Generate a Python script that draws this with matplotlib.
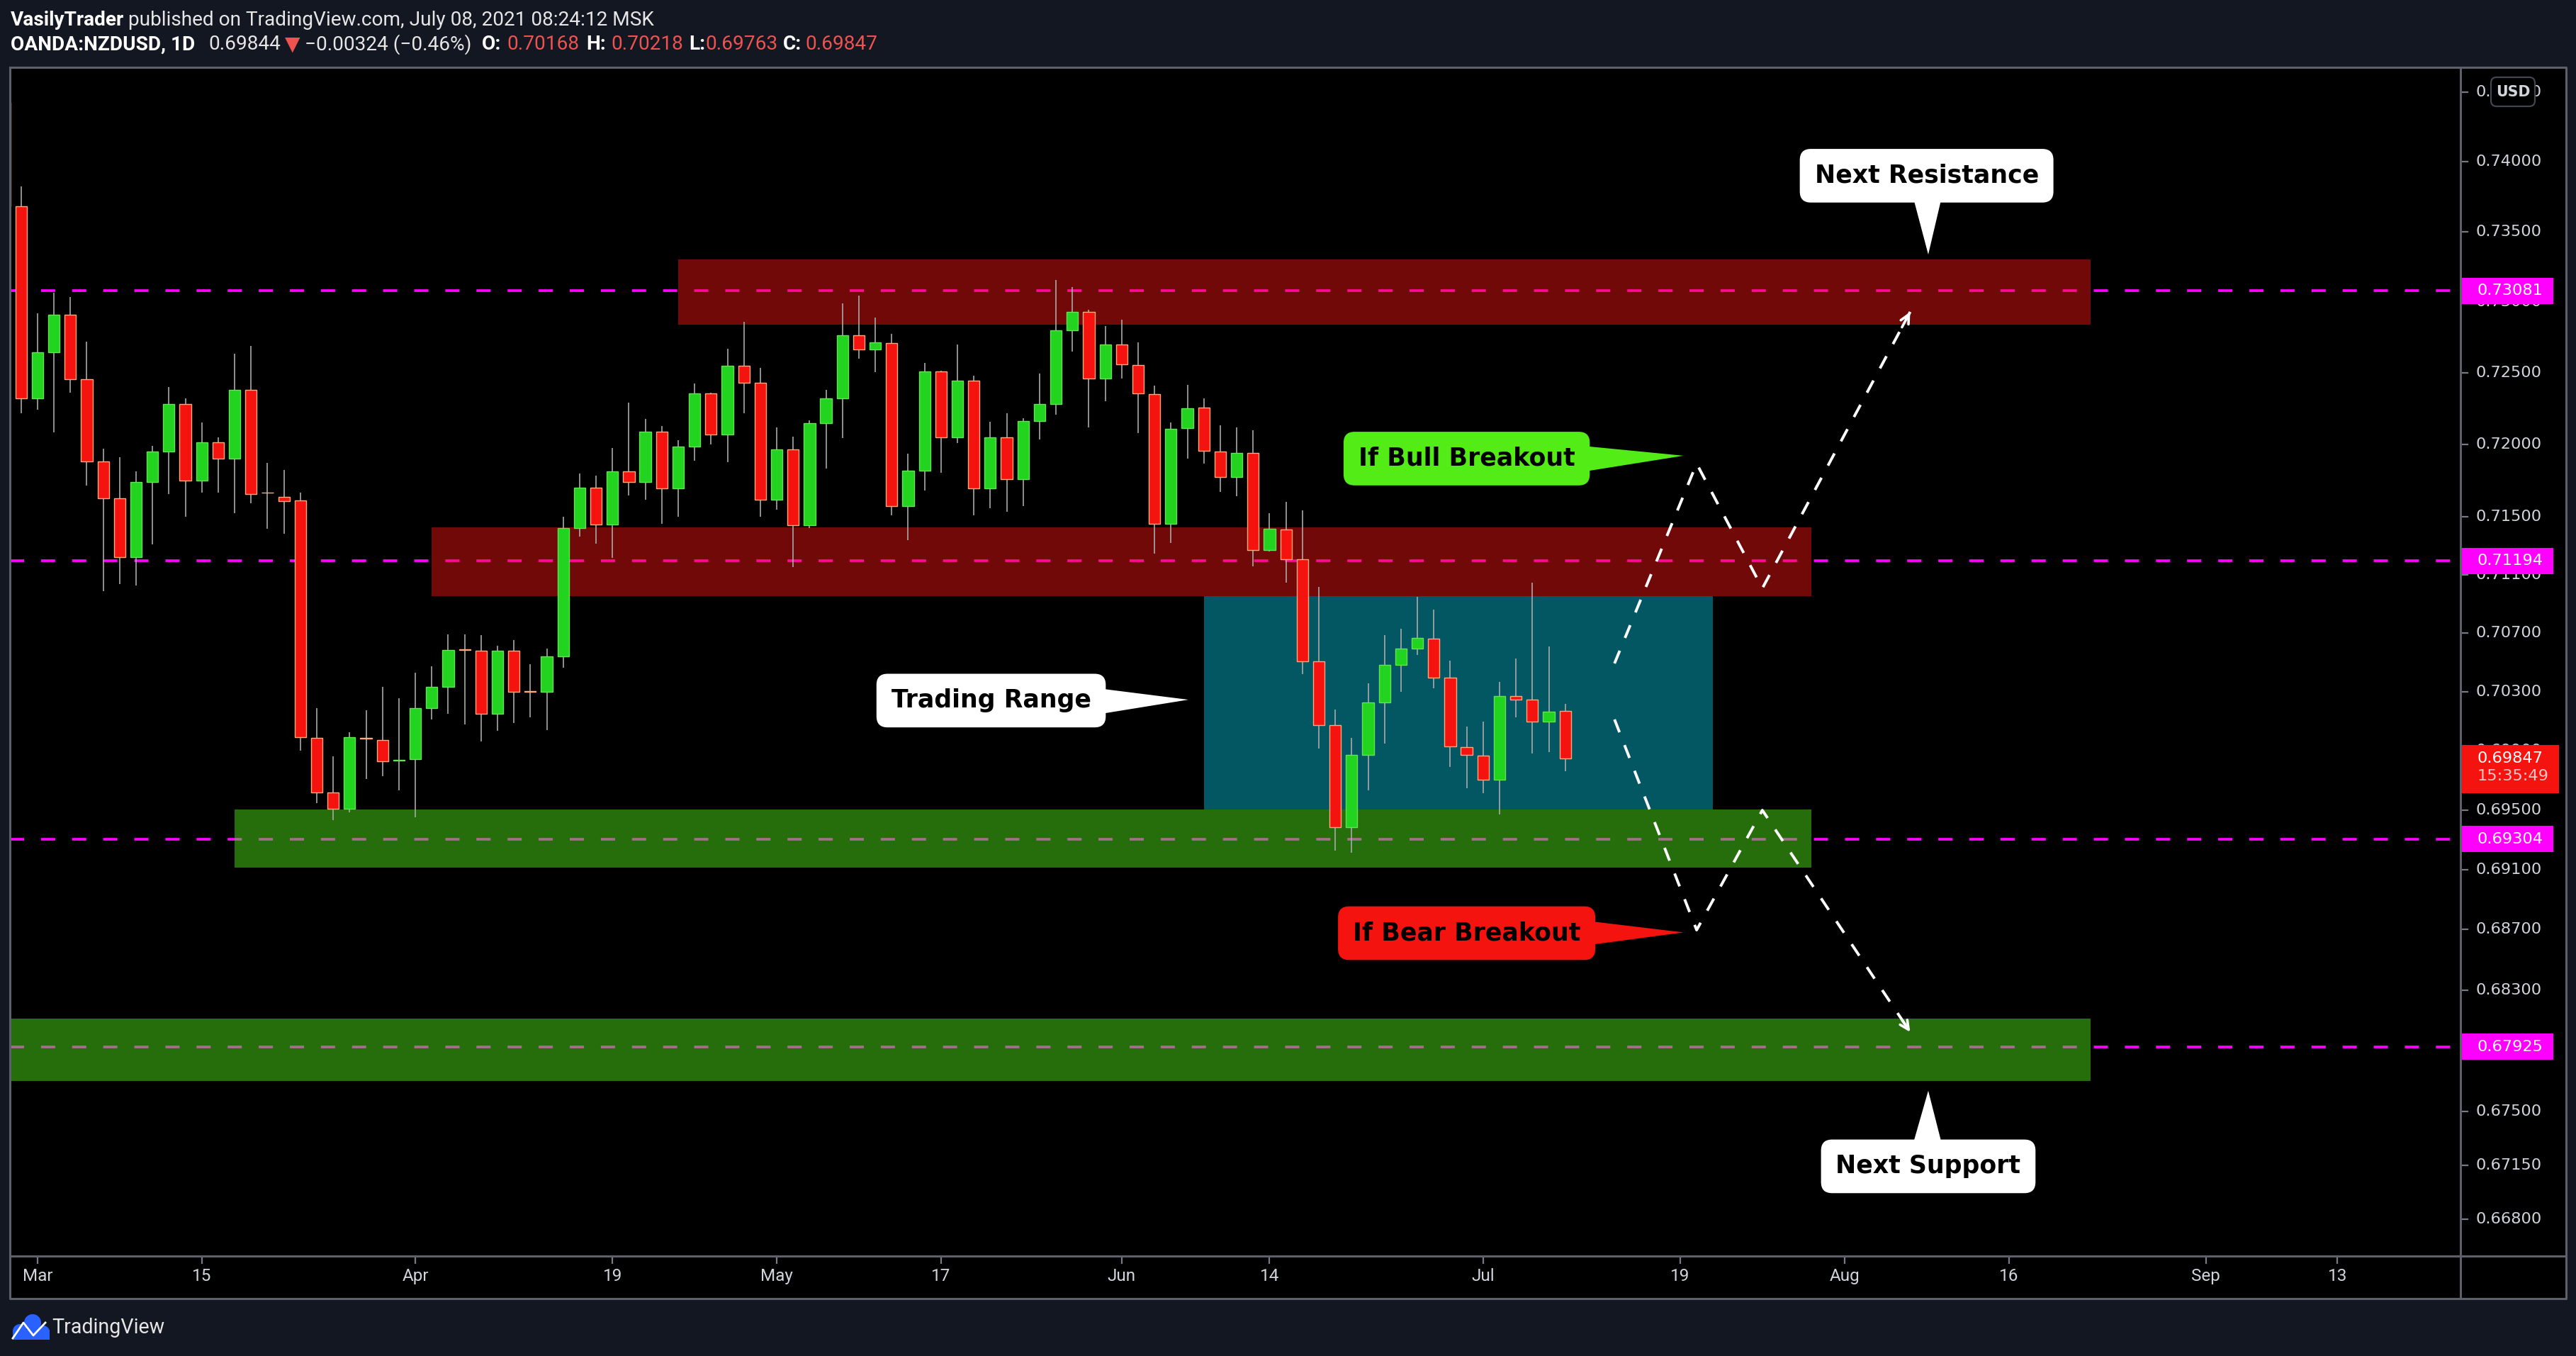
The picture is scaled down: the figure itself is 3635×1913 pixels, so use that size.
import numpy as np
import pandas as pd
import matplotlib
matplotlib.use("Agg")
import matplotlib.pyplot as plt
from matplotlib import transforms as mtransforms
from matplotlib.patches import Rectangle, FancyBboxPatch, Polygon, Circle
from matplotlib.lines import Line2D

plt.rcParams["lines.scale_dashes"] = False

# daily candles OANDA:NZDUSD, Feb 25 .. Jul 8 2021 (x index: 0 = Mar 1)
first_x = -2
opens = [0.74420, 0.73682, 0.72323, 0.72645, 0.72912, 0.72456, 0.71884, 0.71626, 0.71220, 0.71739,
         0.71950, 0.72281, 0.71749, 0.72014, 0.71903, 0.72385, 0.71668, 0.71637, 0.71611, 0.69988,
         0.69615, 0.69506, 0.69985, 0.69973, 0.69832, 0.69841, 0.70188, 0.70330, 0.70586, 0.70578,
         0.70149, 0.70578, 0.70301, 0.70299, 0.70539, 0.71420, 0.71699, 0.71446, 0.71813, 0.71739,
         0.72089, 0.71695, 0.71986, 0.72357, 0.72069, 0.72551, 0.72432, 0.71616, 0.71966, 0.71443,
         0.72148, 0.72325, 0.72765, 0.72668, 0.72713, 0.71572, 0.71818, 0.72511, 0.72053, 0.72445,
         0.71695, 0.72050, 0.71760, 0.72163, 0.72283, 0.72800, 0.72930, 0.72462, 0.72703, 0.72559,
         0.72355, 0.71451, 0.72114, 0.72257, 0.71953, 0.71775, 0.71940, 0.71269, 0.71413, 0.71204,
         0.70504, 0.70071, 0.69386, 0.69872, 0.70228, 0.70482, 0.70594, 0.70663, 0.70394, 0.69923,
         0.69866, 0.69704, 0.70269, 0.70245, 0.70097, 0.70168]
highs = [0.74620, 0.73822, 0.72921, 0.73068, 0.73037, 0.72723, 0.71972, 0.71912, 0.71816, 0.71992,
         0.72403, 0.72323, 0.72154, 0.72053, 0.72636, 0.72692, 0.71873, 0.71824, 0.71667, 0.70188,
         0.69859, 0.70023, 0.70175, 0.70334, 0.70256, 0.70430, 0.70473, 0.70691, 0.70691, 0.70685,
         0.70613, 0.70652, 0.70487, 0.70595, 0.71500, 0.71799, 0.71784, 0.71977, 0.72294, 0.72180,
         0.72130, 0.72031, 0.72428, 0.72364, 0.72670, 0.72862, 0.72538, 0.72120, 0.72056, 0.72168,
         0.72383, 0.72991, 0.73046, 0.72891, 0.72777, 0.71938, 0.72572, 0.72515, 0.72702, 0.72483,
         0.72160, 0.72219, 0.72185, 0.72498, 0.73156, 0.73106, 0.72946, 0.72832, 0.72877, 0.72717,
         0.72413, 0.72155, 0.72418, 0.72322, 0.72137, 0.72120, 0.72100, 0.71525, 0.71603, 0.71544,
         0.71017, 0.70180, 0.69987, 0.70357, 0.70685, 0.70730, 0.70949, 0.70858, 0.70512, 0.70064,
         0.70097, 0.70368, 0.70527, 0.71047, 0.70609, 0.70218]
lows = [0.73600, 0.72219, 0.72245, 0.72086, 0.72363, 0.71716, 0.70988, 0.71035, 0.71025, 0.71307,
        0.71657, 0.71500, 0.71668, 0.71664, 0.71526, 0.71591, 0.71417, 0.71384, 0.69900, 0.69548,
        0.69430, 0.69482, 0.69710, 0.69725, 0.69630, 0.69448, 0.70113, 0.70151, 0.70076, 0.69964,
        0.70032, 0.70089, 0.70127, 0.70038, 0.70465, 0.71360, 0.71311, 0.71214, 0.71647, 0.71618,
        0.71451, 0.71500, 0.71888, 0.72002, 0.71880, 0.72221, 0.71500, 0.71549, 0.71150, 0.71423,
        0.71836, 0.72048, 0.72602, 0.72509, 0.71507, 0.71340, 0.71683, 0.71806, 0.72012, 0.71511,
        0.71560, 0.71536, 0.71575, 0.72038, 0.72211, 0.72652, 0.72120, 0.72304, 0.72460, 0.72082,
        0.71247, 0.71316, 0.71905, 0.71867, 0.71671, 0.71644, 0.71155, 0.71261, 0.71043, 0.70417,
        0.69912, 0.69226, 0.69214, 0.69632, 0.69949, 0.70297, 0.70551, 0.70323, 0.69788, 0.69645,
        0.69611, 0.69468, 0.70124, 0.69878, 0.69889, 0.69763]
closes = [0.73681, 0.72323, 0.72645, 0.72912, 0.72456, 0.71884, 0.71626, 0.71220, 0.71739, 0.71950,
          0.72281, 0.71749, 0.72014, 0.71903, 0.72385, 0.71657, 0.71664, 0.71609, 0.69992, 0.69615,
          0.69506, 0.69992, 0.69980, 0.69830, 0.69836, 0.70186, 0.70332, 0.70585, 0.70582, 0.70149,
          0.70578, 0.70299, 0.70297, 0.70539, 0.71420, 0.71699, 0.71446, 0.71813, 0.71739, 0.72089,
          0.71695, 0.71986, 0.72357, 0.72069, 0.72551, 0.72432, 0.71616, 0.71966, 0.71443, 0.72148,
          0.72325, 0.72765, 0.72668, 0.72715, 0.71572, 0.71818, 0.72511, 0.72053, 0.72447, 0.71695,
          0.72050, 0.71760, 0.72163, 0.72283, 0.72800, 0.72930, 0.72462, 0.72703, 0.72561, 0.72359,
          0.71451, 0.72112, 0.72254, 0.71957, 0.71775, 0.71940, 0.71269, 0.71416, 0.71206, 0.70508,
          0.70073, 0.69386, 0.69870, 0.70226, 0.70480, 0.70592, 0.70665, 0.70396, 0.69927, 0.69870,
          0.69704, 0.70269, 0.70247, 0.70097, 0.70163, 0.69847]

tick_dates = ["2021-03-01", "2021-03-15", "2021-04-01", "2021-04-19", "2021-05-03", "2021-05-17",
              "2021-06-01", "2021-06-14", "2021-07-01", "2021-07-19", "2021-08-02", "2021-08-16",
              "2021-09-01", "2021-09-13"]
tick_labels = ["Mar", "15", "Apr", "19", "May", "17", "Jun", "14", "Jul", "19", "Aug", "16", "Sep", "13"]

price_ticks = [0.745, 0.740, 0.735, 0.730, 0.725, 0.720, 0.715, 0.711, 0.707, 0.703, 0.699,
               0.695, 0.691, 0.687, 0.683, 0.679, 0.675, 0.6715, 0.668]
level_prices = [0.73081, 0.71194, 0.69304, 0.67925]
last_price = 0.69847
countdown = "15:35:49"

# supply / demand zones and trading range box
zone_x0 = [39, 24, 71, 12, -3]
zone_x1 = [125, 108, 102, 108, 125]
zone_lo = [0.72841, 0.70954, 0.69505, 0.69113, 0.67701]
zone_hi = [0.73302, 0.71427, 0.70954, 0.69503, 0.68113]
zone_colors = ["#ff1414", "#ff1414", "#025763", "#4cdc18", "#4cdc18"]
zone_alpha = [0.45, 0.45, 1.0, 0.5, 0.5]

# projected paths
bull_x = [96.0, 101.0, 105.0, 114.0]
bull_y = [0.70492, 0.71868, 0.71006, 0.72931]
bear_x = [96.0, 101.0, 105.0, 114.0]
bear_y = [0.70111, 0.68697, 0.69498, 0.68022]

BG = "#131722"
FRAME = "#5d606b"
TXT = "#d1d4dc"
NARROW = "Roboto"

W, H, DPI = 3635, 1913, 200
fig = plt.figure(figsize=(W / DPI, H / DPI), dpi=DPI, facecolor=BG)
px = mtransforms.Affine2D().scale(1 / W, -1 / H).translate(0, 1) + fig.transFigure


def box(x0, y0, x1, y1):
    return [x0 / W, 1 - y1 / H, (x1 - x0) / W, (y1 - y0) / H]


# black chart background
fig.add_artist(Rectangle((14, 95), 3607, 1737, transform=px, facecolor="black",
                         edgecolor="none", zorder=-5))

ymin, ymax = 0.66566, 0.74677
ax = fig.add_axes(box(14, 95, 3472, 1771.5))
ax.set_facecolor("black")
ax.set_yscale("log")
ax.set_xlim(-1.68, 147.5)
ax.set_ylim(ymin, ymax)
for s in ax.spines.values():
    s.set_visible(False)
ax.tick_params(axis="y", which="both", left=False, right=False, labelleft=False)

days = pd.bdate_range("2021-02-25", "2021-09-30")
pos = {d: k + first_x for k, d in enumerate(days)}
tick_x = [pos[pd.Timestamp(d)] for d in tick_dates]
ax.set_xticks(tick_x)
ax.set_xticklabels(tick_labels, fontfamily=NARROW)
ax.tick_params(axis="x", which="both", length=3.8, width=0.8, color="#787b86",
               pad=2.4, labelsize=8.75, labelcolor=TXT)

# levels
for p in level_prices:
    ax.axhline(p, color="#ff00ff", lw=1.35, dashes=(7.2, 8.6), zorder=1)

# zones
for x0, x1, lo, hi, col, a in zip(zone_x0, zone_x1, zone_lo, zone_hi, zone_colors, zone_alpha):
    ax.add_patch(Rectangle((x0, lo), x1 - x0, hi - lo, facecolor=col, alpha=a,
                           edgecolor="none", zorder=2))

# paths with small heads at the end
for px_, py_ in ((bull_x, bull_y), (bear_x, bear_y)):
    ax.plot(px_, py_, color="white", lw=1.4, dashes=(7, 7), zorder=3)
    back = 0.5 / (px_[-1] - px_[-2])
    tail = (px_[-1] - 0.5, np.exp(np.log(py_[-1]) - back * np.log(py_[-1] / py_[-2])))
    ax.annotate("", xy=(px_[-1], py_[-1]), xytext=tail, zorder=3,
                arrowprops=dict(arrowstyle="->,head_length=0.45,head_width=0.22",
                                color="white", lw=1.3, shrinkA=0, shrinkB=0))

# candles
o, h, l, c = (np.array(v) for v in (opens, highs, lows, closes))
xs = np.arange(len(o)) + first_x
up = c >= o
ax.vlines(xs, l, h, color="#a9a9a9", lw=0.6, zorder=4)
ax.bar(xs, c - o, bottom=o, width=0.7,
       color=np.where(up, "#22d420", "#f5130f"),
       edgecolor=np.where(up, "#66e055", "#ffa97c"), linewidth=0.5, zorder=5)


# callouts
def callout(text, x, y, fc, pts):
    ax.add_patch(Polygon(pts, closed=True, facecolor=fc, edgecolor="none", zorder=6))
    ax.text(x, y, text, ha="center", va="center", fontsize=12.5, weight="bold",
            family="DejaVu Sans", color="black", zorder=7,
            bbox=dict(boxstyle="round,pad=0.6,rounding_size=0.45", fc=fc, ec="none"))


callout("Next Resistance", 115.0, 0.73898, "white",
        [(114.2, 0.73735), (115.9, 0.73735), (115.1, 0.73337)])
callout("If Bull Breakout", 87.0, 0.71903, "#53ec16",
        [(94.0, 0.71992), (94.0, 0.71810), (100.2, 0.71923)])
callout("Trading Range", 58.05, 0.70239, "white",
        [(64.8, 0.70319), (64.8, 0.70150), (70.06, 0.70245)])
callout("If Bear Breakout", 87.0, 0.68676, "#f5130f",
        [(94.0, 0.68762), (94.0, 0.68591), (100.2, 0.68681)])
callout("Next Support", 115.1, 0.67144, "white",
        [(114.2, 0.67300), (115.9, 0.67300), (115.1, 0.67637)])

# price scale panel
pax = fig.add_axes(box(3472, 95, 3621, 1771.5), sharey=ax)
pax.set_facecolor("none")
pax.set_xlim(0, 1)
for s in pax.spines.values():
    s.set_visible(False)
pax.tick_params(axis="both", which="both", left=False, bottom=False,
                labelleft=False, labelbottom=False)
k = 1676.5 / np.log(ymax / ymin)


def shift(p, dpx):
    return p * np.exp(-dpx / k)


for p in price_ticks:
    pax.plot([0, 0.067], [p, p], color="#787b86", lw=0.8)
    pax.text(0.141, p, f"{p:.5f}", va="center", ha="left", fontsize=8.1,
             color=TXT, family="DejaVu Sans")
for p in level_prices:
    pax.add_patch(Rectangle((0, shift(p, 18.5)), 0.879, shift(p, -18.5) - shift(p, 18.5),
                            facecolor="#ff00ff", edgecolor="none", zorder=5))
    pax.text(0.155, p, f"{p:.5f}", va="center", ha="left", fontsize=8.1,
             color="white", family="DejaVu Sans", zorder=6)
pax.add_patch(Rectangle((0, shift(last_price, 49)), 0.933,
                        shift(last_price, -19) - shift(last_price, 49),
                        facecolor="#f5130f", edgecolor="none", zorder=5))
pax.text(0.155, last_price, f"{last_price:.5f}", va="center", ha="left", fontsize=8.1,
         color="white", family="DejaVu Sans", zorder=6)
pax.text(0.155, shift(last_price, 25), countdown, va="center", ha="left", fontsize=8.1,
         color="#ffc8c8", family="DejaVu Sans", zorder=6)

# USD button
fig.add_artist(FancyBboxPatch((3515, 109), 62, 41, boxstyle="round,pad=0,rounding_size=8",
                              transform=px, facecolor="black", edgecolor="#434651",
                              lw=0.8, zorder=5))
fig.text(3546, 130, "USD", transform=px, ha="center", va="center", fontsize=7.4,
         color=TXT, family="DejaVu Sans", weight="bold", zorder=6)

# frame
frame_kw = dict(transform=px, color=FRAME, lw=1.1, zorder=4)
fig.add_artist(Line2D([14, 3621, 3621, 14, 14], [95, 95, 1832, 1832, 95], **frame_kw))
fig.add_artist(Line2D([3472, 3472], [95, 1832], **frame_kw))
fig.add_artist(Line2D([14, 3621], [1771.5, 1771.5], **frame_kw))

# header
hdr = [
    (15, 28, "VasilyTrader", "white", "bold"),
    (181, 28, "published on TradingView.com, July 08, 2021 08:24:12 MSK", "#e6e6e6", "normal"),
    (15, 63, "OANDA:NZDUSD, 1D", "white", "bold"),
    (294, 63, "0.69844", "#e6e6e6", "normal"),
    (402, 63, "\u25bc", "#ef5350", "normal"),
    (430, 63, "\u22120.00324 (\u22120.46%)", "#e6e6e6", "normal"),
    (680, 63, "O:", "white", "bold"),
    (715, 63, "0.70168", "#ef5350", "normal"),
    (827, 63, "H:", "white", "bold"),
    (862, 63, "0.70218", "#ef5350", "normal"),
    (972, 63, "L:", "white", "bold"),
    (995, 63, "0.69763", "#ef5350", "normal"),
    (1105, 63, "C:", "white", "bold"),
    (1136, 63, "0.69847", "#ef5350", "normal"),
]
for x, y, s, col, wt in hdr:
    fig.text(x, y, s, transform=px, ha="left", va="center", fontsize=10.1, color=col,
             weight=wt, family=[NARROW, "DejaVu Sans"])

# TradingView logo
for cx, cy, r in [(46, 1866, 12), (28, 1878, 10), (61, 1879, 9)]:
    fig.add_artist(Circle((cx, cy), r, transform=px, facecolor="#2962ff", edgecolor="none"))
fig.add_artist(Rectangle((18, 1876), 52, 14, transform=px, facecolor="#2962ff", edgecolor="none"))
fig.add_artist(Line2D([18, 33, 47, 64], [1888, 1866, 1884, 1866], transform=px,
                      color="white", lw=1.0, zorder=3))
fig.text(73, 1873, "TradingView", transform=px, ha="left", va="center", fontsize=10.3,
         color="#e6e6e6", family=NARROW)

fig.savefig("out.png", dpi=DPI, facecolor=BG)
